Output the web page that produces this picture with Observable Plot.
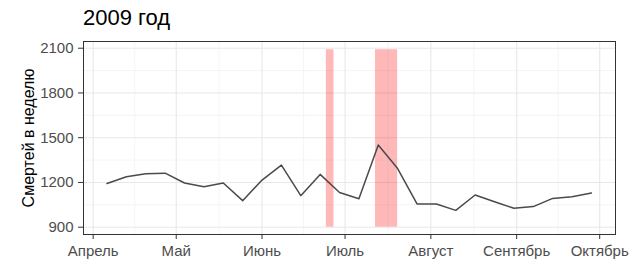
<!DOCTYPE html>
<html>
<head>
<meta charset="utf-8">
<script src="https://cdn.jsdelivr.net/npm/d3@7"></script>
<script src="https://cdn.jsdelivr.net/npm/@observablehq/plot@0.6"></script>
<style>
  html, body { margin: 0; padding: 0; background: #fff; }
  #title { height: 36px; padding-left: 83px; font-family: "Liberation Sans", Arial, sans-serif; font-size: 22px; line-height: 35px; color: #000; box-sizing: border-box; }
  #chart svg { display: block; }
</style>
</head>
<body>
<div id="title">2009 год</div>
<div id="chart"></div>
<script>
const weeks = ["2009-04-06","2009-04-13","2009-04-20","2009-04-27","2009-05-04","2009-05-11","2009-05-18","2009-05-25","2009-06-01","2009-06-08","2009-06-15","2009-06-22","2009-06-29","2009-07-06","2009-07-13","2009-07-20","2009-07-27","2009-08-03","2009-08-10","2009-08-17","2009-08-24","2009-08-31","2009-09-07","2009-09-14","2009-09-21","2009-09-28"];
const deaths = [1193,1238,1258,1262,1196,1171,1196,1078,1216,1316,1111,1254,1133,1091,1451,1293,1056,1056,1013,1116,1071,1027,1038,1093,1104,1129];
const bandStarts = ["2009-06-24T06:00","2009-07-12"];
const bandEnds = ["2009-06-27","2009-07-20"];
const bandTop = 2090, bandBottom = 900;
const monthTicks = ["2009-04-01","2009-05-01","2009-06-01","2009-07-01","2009-08-01","2009-09-01","2009-10-01"];
const monthLabels = ["Апрель","Май","Июнь","Июль","Август","Сентябрь","Октябрь"];
const yTicks = [900,1200,1500,1800,2100];
const yMinor = [1050,1350,1650,1950];

const parse = s => new Date(s + (s.length === 10 ? "T00:00:00Z" : ":00Z"));
const data = weeks.map((w, i) => ({date: parse(w), value: deaths[i]}));
const bands = bandStarts.map((s, i) => ({x1: parse(s), x2: parse(bandEnds[i]), y1: bandBottom, y2: bandTop}));
const majorX = monthTicks.map(parse);
const minorX = majorX.slice(1).map((d, i) => new Date((+d + +majorX[i]) / 2));
const labelOf = new Map(majorX.map((d, i) => [+d, monthLabels[i]]));

const chart = Plot.plot({
  width: 641,
  height: 231,
  marginTop: 5,
  marginBottom: 33,
  marginLeft: 83,
  marginRight: 26,
  style: {fontFamily: "'Liberation Sans', Arial, sans-serif", fontSize: "15px", background: "#fff"},
  x: {type: "utc", domain: [new Date("2009-03-28T12:00:00Z"), new Date("2009-10-06T17:00:00Z")]},
  y: {domain: [851, 2145]},
  marks: [
    Plot.ruleY(yMinor, {stroke: "#f0f0f0", strokeWidth: 0.7}),
    Plot.ruleX(minorX, {stroke: "#f0f0f0", strokeWidth: 0.7}),
    Plot.ruleY(yTicks, {stroke: "#e8e8e8", strokeWidth: 1.1}),
    Plot.ruleX(majorX, {stroke: "#e8e8e8", strokeWidth: 1.1}),
    Plot.rect(bands, {x1: "x1", x2: "x2", y1: "y1", y2: "y2", fill: "#ff0000", fillOpacity: 0.28}),
    Plot.line(data, {x: "date", y: "value", stroke: "#4a4a4a", strokeWidth: 1.5}),
    Plot.frame({stroke: "#333", strokeWidth: 1}),
    Plot.axisX(majorX, {tickSize: 5, tickPadding: 6, stroke: "#333", fill: "#4d4d4d", fontSize: 15, tickFormat: d => labelOf.get(+d), label: null}),
    Plot.axisY(yTicks, {tickSize: 5, tickPadding: 5, stroke: "#333", fill: "#4d4d4d", fontSize: 15, tickFormat: d => String(d), label: null}),
    Plot.text(["Смертей в неделю"], {frameAnchor: "left", textAnchor: "middle", dx: -55, rotate: -90, fontSize: 16, fill: "#000"})
  ]
});
document.getElementById("chart").appendChild(chart);
</script>
</body>
</html>
